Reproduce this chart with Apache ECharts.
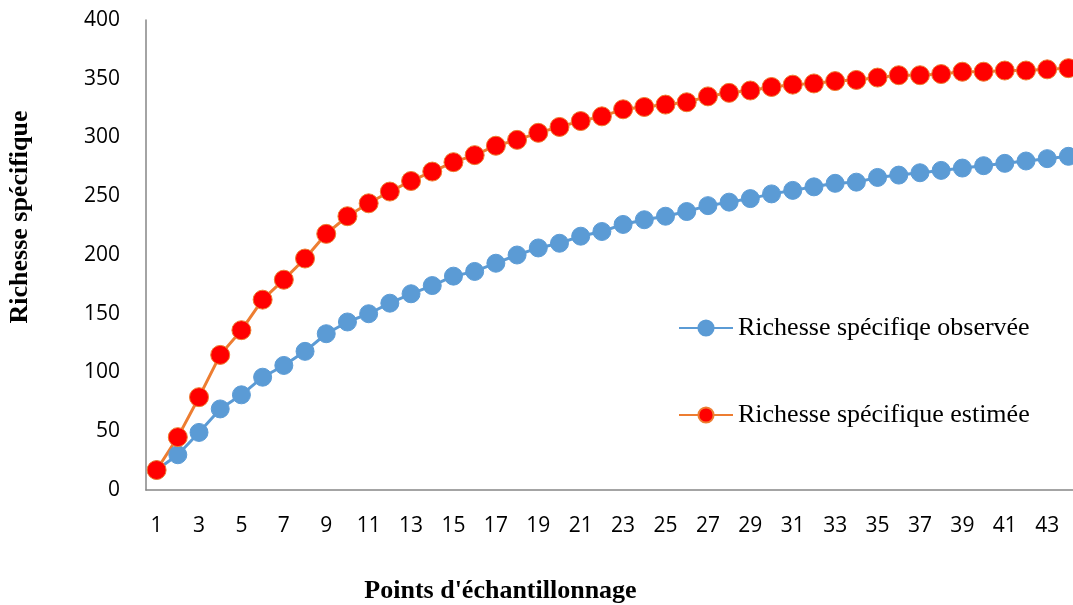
<!DOCTYPE html>
<html>
<head>
<meta charset="utf-8">
<script src="https://cdn.jsdelivr.net/npm/echarts@6/dist/echarts.min.js"></script>
<style>html,body{margin:0;padding:0;background:#fff}#c{width:1073px;height:605px}</style>
</head>
<body>
<div id="c"></div>
<script>
var categories = [];
for (var i = 1; i <= 44; i++) categories.push(String(i));
var observed = [17, 30, 49, 69, 81, 96, 106, 118, 133, 143, 150, 159, 167, 174, 182, 186, 193, 200, 206, 210, 216, 220, 226, 230, 233, 237, 242, 245, 248, 252, 255, 258, 261, 262, 266, 268, 270, 272, 274, 276, 278, 280, 282, 284];
var estimated = [17, 45, 79, 115, 136, 162, 179, 197, 218, 233, 244, 254, 263, 271, 279, 285, 293, 298, 304, 309, 314, 318, 324, 326, 328, 330, 335, 338, 340, 343, 345, 346, 348, 349, 351, 353, 353, 354, 356, 356, 357, 357, 358, 359];
var yTicks = [0, 50, 100, 150, 200, 250, 300, 350, 400];

var chart = echarts.init(document.getElementById('c'));
chart.setOption({
  animation: false,
  grid: { left: 146, top: 20, height: 470, width: 933, containLabel: false, outerBoundsMode: 'none' },
  legend: {
    orient: 'vertical', left: 678, top: 315, padding: 0, itemWidth: 54, itemHeight: 19, itemGap: 61,
    textStyle: { fontFamily: 'Liberation Serif', fontSize: 26, color: '#000' },
    data: ['Richesse spécifiqe observée', 'Richesse spécifique estimée']
  },
  xAxis: {
    type: 'category', data: categories, boundaryGap: true,
    name: "Points d'échantillonnage", nameLocation: 'middle', nameGap: 88,
    nameTextStyle: { fontFamily: 'Liberation Serif', fontWeight: 'bold', fontSize: 26, color: '#000', padding: [0, 224, 0, 0] },
    axisLine: { lineStyle: { color: '#868686', width: 1.5 } },
    axisTick: { show: false },
    axisLabel: { interval: 1, margin: 26, fontFamily: 'Open Sans', fontSize: 21, color: '#000' }
  },
  yAxis: {
    type: 'value', min: 0, max: 400, interval: 50,
    name: 'Richesse spécifique', nameLocation: 'middle', nameGap: 113, nameRotate: 90,
    nameTextStyle: { fontFamily: 'Liberation Serif', fontWeight: 'bold', fontSize: 26, color: '#000', padding: [0, 0, 0, 76] },
    axisLine: { show: true, lineStyle: { color: '#868686', width: 1.5 } },
    axisTick: { show: false },
    splitLine: { show: false },
    axisLabel: { margin: 26, fontFamily: 'Open Sans', fontSize: 21, color: '#000',
      formatter: function (v) { return yTicks.indexOf(v) >= 0 ? String(v) : ''; } }
  },
  series: [
    {
      name: 'Richesse spécifiqe observée', type: 'line', data: observed,
      symbol: 'circle', symbolSize: 18, showAllSymbol: true,
      lineStyle: { color: '#5B9BD5', width: 3 },
      itemStyle: { color: '#5B9BD5', borderColor: '#5B9BD5', borderWidth: 1 }
    },
    {
      name: 'Richesse spécifique estimée', type: 'line', data: estimated,
      symbol: 'circle', symbolSize: 19, showAllSymbol: true,
      lineStyle: { color: '#ED7D31', width: 3 },
      itemStyle: { color: '#FF0000', borderColor: '#ED7D31', borderWidth: 1 }
    }
  ]
});
</script>
</body>
</html>
